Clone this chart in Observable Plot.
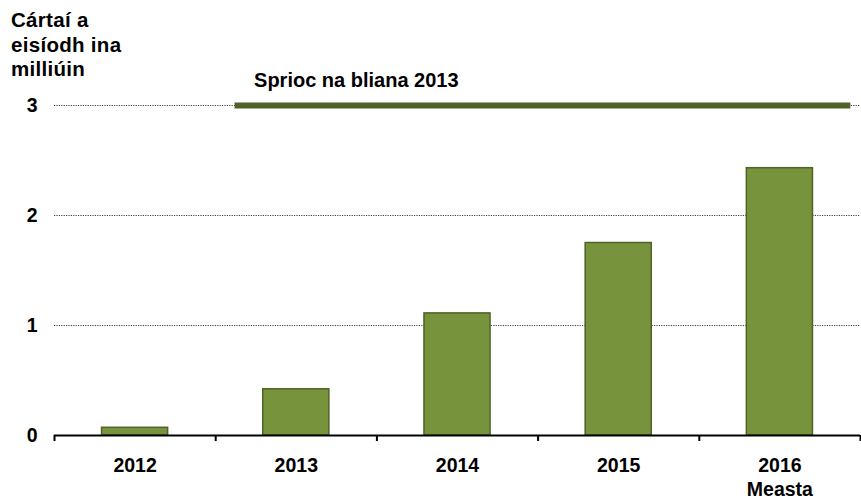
<!DOCTYPE html>
<html>
<head>
<meta charset="utf-8">
<script src="https://cdn.jsdelivr.net/npm/d3@7"></script>
<script src="https://cdn.jsdelivr.net/npm/@observablehq/plot@0.6"></script>
<style>
  body { margin: 0; background: #fff; }
  #wrap { position: relative; width: 861px; height: 500px; }
  #title { position: absolute; left: 11px; top: 8px; font: bold 20.5px "Liberation Sans", Arial, sans-serif; line-height: 24.5px; letter-spacing: 0.3px; color: #000; }
  svg { display: block; }
</style>
</head>
<body>
<div id="wrap">
  <div id="chart"></div>
  <div id="title">Cártaí a<br>eisíodh ina<br>milliúin</div>
</div>
<script>
const years = ["2012", "2013", "2014", "2015", "2016"];
const yearLabels = ["2012", "2013", "2014", "2015", "2016\nMeasta"];
const values = [0.07, 0.42, 1.11, 1.75, 2.43];
const yTicks = [0, 1, 2, 3];
const targetValue = 3;
const targetFrom = "2013";
const targetTo = "2016";
const targetLabel = "Sprioc na bliana 2013";

const idx = y => years.indexOf(y);
const bars = years.map((y, i) => ({year: y, i, value: values[i]}));
const half = 0.205;
const bandCenters = years.map((y, i) => i + 0.5);
const bandEdges = d3.range(years.length + 1);

const chart = Plot.plot({
  width: 861,
  height: 500,
  marginTop: 105,
  marginBottom: 65,
  marginLeft: 54,
  marginRight: 1,
  style: {fontFamily: "'Liberation Sans', Arial, sans-serif", fontSize: "19.5px", fontWeight: "bold", color: "#000", background: "#fff"},
  x: {domain: [0, years.length], axis: null},
  y: {domain: [0, 3], axis: null},
  marks: [
    Plot.gridY(yTicks.filter(d => d > 0), {stroke: "#000", strokeOpacity: 0.75, strokeDasharray: "1.2,1.2", strokeWidth: 1}),
    Plot.axisY(yTicks, {tickSize: 0, tickPadding: 17, tickFormat: d3.format("d"), fontSize: 19.5, fontWeight: "bold", label: null}),
    Plot.rectY(bars, {x1: d => d.i + 0.5 - half, x2: d => d.i + 0.5 + half, y: "value", fill: "#77933c", stroke: "#4f6228", strokeWidth: 1.5}),
    Plot.ruleY([targetValue], {x1: idx(targetFrom) + 0.12, x2: idx(targetTo) + 0.94, stroke: "#4f6228", strokeWidth: 6}),
    Plot.text([targetLabel], {x: idx(targetFrom) + 0.12, y: targetValue, text: d => d, textAnchor: "start", lineAnchor: "middle", dx: 19, dy: -25, fontSize: 20, fontWeight: "bold", fill: "#000", style: "letter-spacing:0.7px"}),
    Plot.ruleY([0], {stroke: "#000", strokeWidth: 2}),
    Plot.axisX(bandEdges, {tickSize: 6, tickFormat: () => "", strokeWidth: 2, label: null}),
    Plot.axisX(bandCenters, {tickSize: 0, tickPadding: 19, tickFormat: d => yearLabels[Math.round(d - 0.5)], lineHeight: 1.25, fontSize: 19.5, fontWeight: "bold", label: null})
  ]
});
document.getElementById("chart").appendChild(chart);
</script>
</body>
</html>
